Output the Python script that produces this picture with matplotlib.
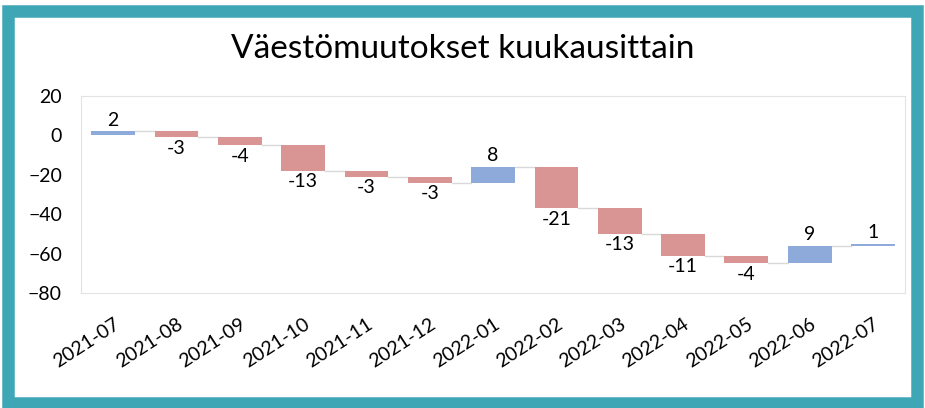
import numpy as np
import matplotlib.pyplot as plt
from matplotlib.patches import Rectangle

plt.rcParams['font.family'] = ['Lato', 'DejaVu Sans']

months = ['2021-07', '2021-08', '2021-09', '2021-10', '2021-11', '2021-12',
          '2022-01', '2022-02', '2022-03', '2022-04', '2022-05', '2022-06', '2022-07']
changes = [2, -3, -4, -13, -3, -3, 8, -21, -13, -11, -4, 9, 1]

blue = '#8eaadb'
red = '#d99594'

fig = plt.figure(figsize=(9.25, 4.08), dpi=100)
ax = fig.add_axes([0.088, 0.282, 0.89, 0.483])

# waterfall: each bar starts where the previous one ended
ends = np.cumsum(changes)
starts = ends - np.array(changes)
x = np.arange(len(months))
colors = [blue if c > 0 else red for c in changes]
ax.bar(x, changes, bottom=starts, width=0.69, color=colors, zorder=3)

# connector lines
for i in range(len(months) - 1):
    ax.plot([x[i] + 0.345, x[i + 1] - 0.345], [ends[i], ends[i]],
            color='#d9d9d9', lw=1, zorder=2)

for i, c in enumerate(changes):
    if c > 0:
        ax.text(x[i], ends[i] + 1.2, str(c), ha='center', va='bottom', fontsize=14)
    else:
        ax.text(x[i], ends[i] - 1.2, str(c), ha='center', va='top', fontsize=14)

ax.set_xlim(-0.5, len(months) - 0.5)
ax.set_ylim(-80, 20)
ax.set_yticks([20, 0, -20, -40, -60, -80])
ax.set_xticks(x)
ax.set_xticklabels(months, rotation=33, ha='right', rotation_mode='anchor')
ax.tick_params(length=0, labelsize=14)
ax.tick_params(axis='y', pad=14)
ax.tick_params(axis='x', pad=16)
for s in ax.spines.values():
    s.set_color('#e3e3e3')

fig.text(0.5, 0.88, 'Väestömuutokset kuukausittain', ha='center', va='center', fontsize=24)

# teal frame
fig.patches.append(Rectangle((0.009, 0.012), 0.982, 0.962, transform=fig.transFigure,
                             fill=False, edgecolor='#3fa6b5', lw=9))

fig.savefig('out.png', dpi=100)
